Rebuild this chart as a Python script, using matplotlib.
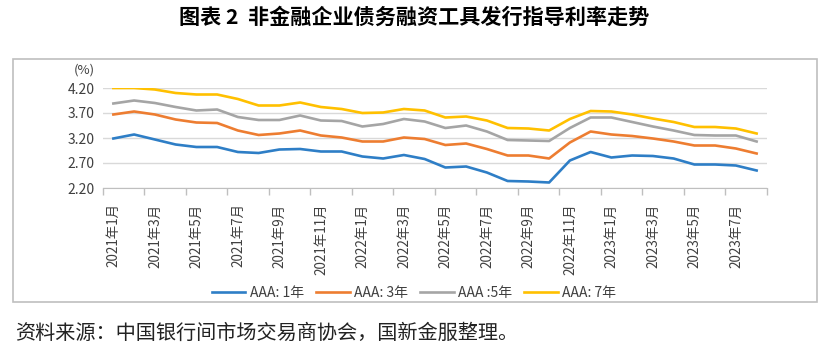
import matplotlib
matplotlib.use("Agg")
import matplotlib.pyplot as plt
from matplotlib.patches import Rectangle

plt.rcParams['font.family'] = ['Noto Sans CJK SC', 'DejaVu Sans']

# monthly categories, 2021-01 .. 2023-08
months = [(2021 + (i // 12), i % 12 + 1) for i in range(32)]
labels = [f"{y}年{m}月" for y, m in months]

aaa_1y = [3.19, 3.27, 3.17, 3.07, 3.02, 3.02, 2.92, 2.90, 2.97, 2.98, 2.93, 2.93,
          2.83, 2.79, 2.86, 2.78, 2.61, 2.63, 2.51, 2.34, 2.33, 2.31, 2.75, 2.92,
          2.81, 2.85, 2.84, 2.79, 2.67, 2.67, 2.65, 2.55]
aaa_3y = [3.67, 3.73, 3.67, 3.57, 3.51, 3.50, 3.35, 3.26, 3.29, 3.35, 3.25, 3.21,
          3.13, 3.13, 3.21, 3.18, 3.06, 3.09, 2.98, 2.85, 2.85, 2.79, 3.11, 3.33,
          3.27, 3.24, 3.19, 3.13, 3.05, 3.05, 2.99, 2.89]
aaa_5y = [3.89, 3.95, 3.90, 3.82, 3.75, 3.77, 3.62, 3.56, 3.56, 3.65, 3.55, 3.54,
          3.43, 3.48, 3.58, 3.53, 3.40, 3.45, 3.33, 3.16, 3.15, 3.14, 3.40, 3.61,
          3.61, 3.52, 3.43, 3.35, 3.26, 3.25, 3.25, 3.13]
aaa_7y = [4.20, 4.20, 4.17, 4.10, 4.07, 4.07, 3.98, 3.85, 3.85, 3.91, 3.82, 3.78,
          3.70, 3.71, 3.78, 3.75, 3.61, 3.63, 3.55, 3.40, 3.39, 3.35, 3.58, 3.74,
          3.73, 3.67, 3.59, 3.52, 3.42, 3.42, 3.39, 3.29]

series = [
    ("AAA: 1年", aaa_1y, "#2E7EC6"),
    ("AAA: 3年", aaa_3y, "#ED7D31"),
    ("AAA :5年", aaa_5y, "#A5A5A5"),
    ("AAA: 7年", aaa_7y, "#FFC000"),
]
yticks = [2.20, 2.70, 3.20, 3.70, 4.20]

W, H = 828, 354
fig = plt.figure(figsize=(W / 100, H / 100), dpi=100)
ax = fig.add_axes([103 / W, 1 - 188 / H, 664 / W, 100 / H])

x = list(range(len(labels)))
for name, vals, col in series:
    ax.plot(x, vals, color=col, lw=1.9, label=name, solid_joinstyle='round')

ax.set_xlim(-0.5, len(labels) - 0.5)
ax.set_ylim(2.2, 4.2)
ax.set_yticks(yticks)
ax.set_yticklabels([f"{v:.2f}" for v in yticks], fontsize=10, color='#404040')
ax.tick_params(axis='y', length=0, pad=6)
ax.yaxis.grid(True, color='#D9D9D9', lw=1)
ax.set_axisbelow(True)

ax.set_xticks(x[::2])
ax.set_xticklabels(labels[::2], rotation=90, fontsize=9.7, color='#404040')
ax.set_xticks([i - 0.5 for i in range(0, len(labels) + 1, 2)], minor=True)
ax.tick_params(axis='x', which='major', length=0, pad=11)
ax.tick_params(axis='x', which='minor', length=5, color='#BFBFBF', width=1)

for s in ['left', 'top', 'right']:
    ax.spines[s].set_visible(False)
ax.spines['bottom'].set_color('#BFBFBF')

fig.text(84 / W, 1 - 70 / H, "(%)", fontsize=9.5, color='#404040',
         ha='center', va='center')

fig.legend(loc='center', bbox_to_anchor=(0.5, 1 - 293 / H), ncol=4,
           frameon=False, fontsize=10, handlelength=2.4, handletextpad=0.3,
           columnspacing=0.9, labelcolor='#404040')

# outer frame of the chart
fig.patches.append(Rectangle((13 / W, 1 - 302 / H), 804 / W, 243 / H,
                             transform=fig.transFigure, fill=False,
                             edgecolor='#BFBFBF', lw=1.2))

fig.text(0.5, 1 - 17 / H, "图表 2  非金融企业债务融资工具发行指导利率走势",
         fontsize=15.2, fontweight='bold', ha='center', va='center')
fig.text(15 / W, 1 - 333 / H, "资料来源：中国银行间市场交易商协会，国新金服整理。",
         fontsize=14.5, ha='left', va='center', color='#222222')

fig.savefig("out.png", dpi=100)
